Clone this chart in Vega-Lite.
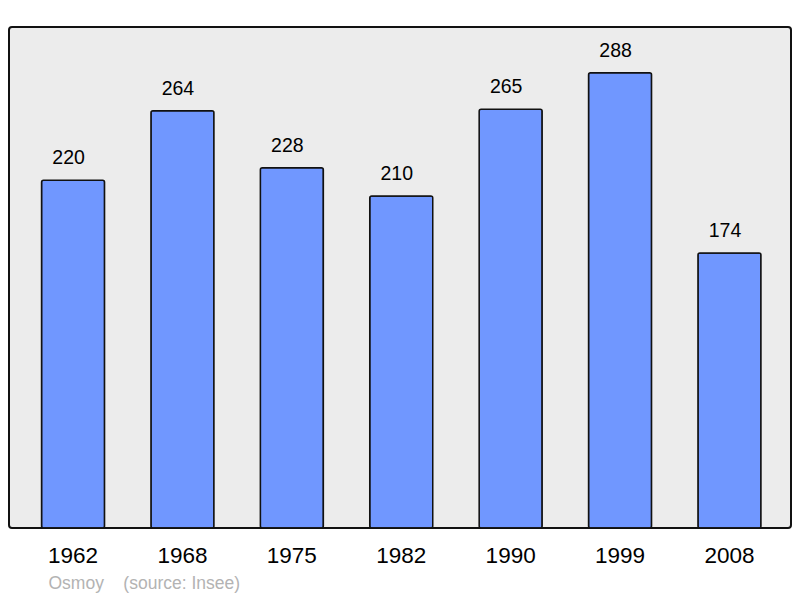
{
  "$schema": "https://vega.github.io/schema/vega-lite/v6.json",
  "width": 782,
  "height": 501,
  "autosize": {"type": "none"},
  "padding": {"left": 9, "top": 27, "right": 9, "bottom": 70},
  "background": "white",
  "config": {
    "font": "Liberation Sans",
    "view": {"fill": "#ececec", "stroke": "#111111", "strokeWidth": 2, "cornerRadius": 3}
  },
  "data": {
    "values": [
      {"year": "1962", "pop": 220},
      {"year": "1968", "pop": 264},
      {"year": "1975", "pop": 228},
      {"year": "1982", "pop": 210},
      {"year": "1990", "pop": 265},
      {"year": "1999", "pop": 288},
      {"year": "2008", "pop": 174}
    ]
  },
  "encoding": {
    "x": {
      "field": "year", "type": "nominal", "sort": null,
      "scale": {"paddingInner": 0.424, "paddingOuter": 0.286, "align": 0.52},
      "axis": {
        "title": "Osmoy\u00a0\u00a0\u00a0\u00a0(source: Insee)",
        "titleColor": "#b3b3b3", "titleFont": "Liberation Sans", "titleFontSize": 17.5, "titleFontWeight": "normal",
        "titleAnchor": "start", "titleAlign": "left", "titleBaseline": "middle", "titleX": 39, "titleY": 55,
        "labelAngle": 0, "labelFontSize": 22.5, "labelColor": "#000000", "labelPadding": 16,
        "ticks": false, "domain": false, "grid": false
      }
    },
    "y": {
      "field": "pop", "type": "quantitative",
      "scale": {"domain": [0, 317], "nice": false, "zero": true},
      "axis": null
    }
  },
  "layer": [
    {
      "mark": {"type": "bar", "fill": "#7097ff", "stroke": "#111111", "strokeWidth": 1.5, "cornerRadius": 2}
    },
    {
      "mark": {"type": "text", "fontSize": 19.5, "dy": -22, "dx": -4.5, "baseline": "middle", "color": "#000000"},
      "encoding": {"text": {"field": "pop", "type": "quantitative"}}
    }
  ]
}
